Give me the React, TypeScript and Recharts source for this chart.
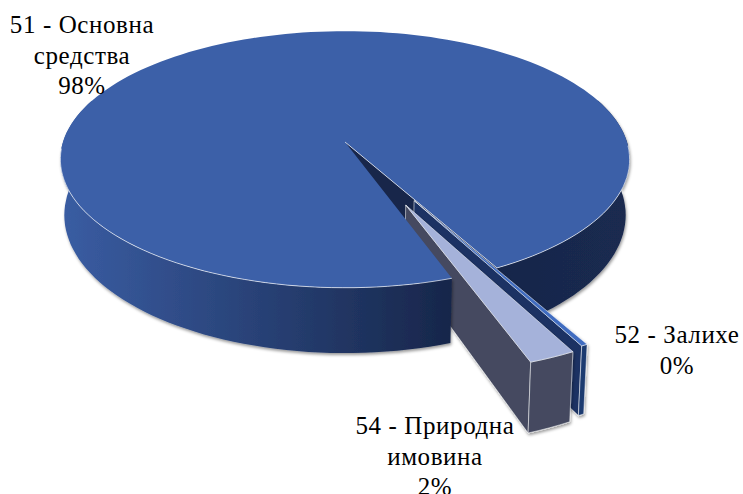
import React from 'react';
import { PieChart, Pie, Cell } from 'recharts';

const categories = ['51 - Основна средства', '52 - Залихе', '54 - Природна имовина'];
const values = [97.5, 0.3, 2.2];
const labelLines = [['51 - Основна', 'средства'], ['52 - Залихе'], ['54 - Природна', 'имовина']];
const topColors = ['#3c60a8', '#3f6cc0', '#a5b2da'];
const wallColors = ['#18264a', '#1c3a70', '#444a60'];

const data = categories.map((name, i) => ({ name, value: values[i] }));

const SQUASH = 0.4465;
const KEEP = 0.136;
const EXPLODE = [0, 0.495, 0.51];
const HIGHLIGHT = 'rgba(255,255,255,0.65)';
const LABEL_AT = [
  { x: 82, y: 33 },
  { x: 677, y: 343 },
  { x: 435, y: 434 },
];

// perspective view of a point in the pie's own plane, top or bottom face
function project(cx: number, cy: number, r: number, X: number, Y: number, bottom = false) {
  const w = 1 - KEEP * Y;
  const a = bottom ? r * 0.986 : r;
  const b = bottom ? r * 0.48 : r * SQUASH;
  const oy = bottom ? 54.4 : 0;
  return [cx + (a * X) / w, cy + oy + (b * Y) / w];
}

function toPath(points: number[][]) {
  return points.map((p, i) => `${i === 0 ? 'M' : 'L'}${p[0].toFixed(1)},${p[1].toFixed(1)}`).join(' ');
}

function arc(from: number, to: number) {
  const n = Math.max(2, Math.ceil(Math.abs(to - from) / 2));
  const out: number[][] = [];
  for (let i = 0; i <= n; i++) {
    const t = ((from + ((to - from) * i) / n) * Math.PI) / 180;
    out.push([Math.cos(t), Math.sin(t)]);
  }
  return out;
}

function onCircle(deg: number) {
  return [Math.cos((deg * Math.PI) / 180), Math.sin((deg * Math.PI) / 180)];
}

function pointer(props: any) {
  const { cx, cy, outerRadius: r, startAngle, endAngle, index } = props;
  const a0 = -startAngle;
  const a1 = -endAngle;
  const mid = (((a0 + a1) / 2) * Math.PI) / 180;
  const ox = Math.cos(mid) * EXPLODE[index];
  const oy = Math.sin(mid) * EXPLODE[index];
  const pt = (p: number[], bottom = false) => project(cx, cy, r, p[0] + ox, p[1] + oy, bottom);
  return { a0, a1, pt, index };
}

// everything that lies behind the front of the big slice: its back wall and the pulled out slices
function BackSlice(props: any) {
  const { a0, a1, pt, index } = pointer(props);
  const apexTop = pt([0, 0]);
  const apexBottom = pt([0, 0], true);

  if (index === 0) {
    const end = a1 - 360;
    const back = arc(end - 82, end);
    const wall = [...back.map((p) => pt(p)), ...back.slice().reverse().map((p) => pt(p, true))];
    const inner = [apexTop, pt(onCircle(end)), pt(onCircle(end), true), apexBottom];
    return (
      <g>
        <path d={toPath(wall) + ' Z'} fill="url(#wallRight)" filter="url(#pieShadow)" />
        <path d={toPath(inner) + ' Z'} fill={wallColors[0]} />
      </g>
    );
  }

  const top = arc(a0, a1).map((p) => pt(p));
  const frontWall = [...top, ...arc(a1, a0).map((p) => pt(p, true))];
  const sideWall = [apexTop, pt(onCircle(a1)), pt(onCircle(a1), true), apexBottom];
  return (
    <g filter="url(#pieShadow)">
      <path d={toPath(sideWall) + ' Z'} fill={index === 1 ? '#1b3363' : wallColors[2]} stroke={HIGHLIGHT} strokeWidth={0.8} />
      <path d={toPath(frontWall) + ' Z'} fill={wallColors[index]} stroke={HIGHLIGHT} strokeWidth={0.8} />
      <path d={toPath([apexTop, ...top]) + ' Z'} fill={topColors[index]} stroke={HIGHLIGHT} strokeWidth={0.8} />
    </g>
  );
}

function FrontSlice(props: any) {
  const { a0, a1, pt, index } = pointer(props);
  if (index !== 0) return <g />;
  const end = a1 - 360;
  const apexTop = pt([0, 0]);
  const top = arc(a0, a1).map((p) => pt(p));
  const front = arc(a0, 200);
  const wall = [...front.map((p) => pt(p)), ...front.slice().reverse().map((p) => pt(p, true))];
  return (
    <g>
      <path d={toPath(wall) + ' Z'} fill="url(#wallLeft)" filter="url(#pieShadow)" />
      <path d={toPath([apexTop, ...top]) + ' Z'} fill={topColors[0]} />
      <path d={toPath(arc(a0, 177).map((p) => pt(p)))} fill="none" stroke={HIGHLIGHT} />
      <path d={toPath(arc(end - 60, end).map((p) => pt(p)))} fill="none" stroke={HIGHLIGHT} />
      <path d={toPath([apexTop, pt(onCircle(end))])} fill="none" stroke={HIGHLIGHT} />
    </g>
  );
}

function renderLabel(props: any) {
  const { index, percent } = props;
  const at = LABEL_AT[index];
  const lines = [...labelLines[index], `${Math.round(percent * 100)}%`];
  return (
    <text x={at.x} y={at.y} textAnchor="middle" fontFamily="'Liberation Serif', serif" fontSize={25} letterSpacing={0.6} fill="#000">
      {lines.map((line, i) => (
        <tspan key={i} x={at.x} dy={i === 0 ? 0 : 30.5}>
          {line}
        </tspan>
      ))}
    </text>
  );
}

const pieGeometry = {
  dataKey: 'value',
  nameKey: 'name',
  cx: 345,
  cy: 142,
  outerRadius: 282,
  startAngle: -70.7,
  endAngle: -430.7,
  stroke: 'none',
  isAnimationActive: false,
};

export default function App() {
  return (
    <div style={{ position: 'absolute', left: 0, top: 0, width: 743, height: 494, background: '#fff' }}>
      <PieChart width={743} height={494} margin={{ top: 0, right: 0, bottom: 0, left: 0 }}>
        <defs>
          <linearGradient id="wallLeft" gradientUnits="userSpaceOnUse" x1="60" y1="0" x2="452" y2="0">
            <stop offset="0%" stopColor="#3a5da3" />
            <stop offset="100%" stopColor="#17264a" />
          </linearGradient>
          <linearGradient id="wallRight" gradientUnits="userSpaceOnUse" x1="490" y1="0" x2="630" y2="0">
            <stop offset="0%" stopColor="#18264a" />
            <stop offset="100%" stopColor="#1a2a50" />
          </linearGradient>
          <filter id="pieShadow" x="-10%" y="-10%" width="120%" height="120%">
            <feDropShadow dx="1" dy="2" stdDeviation="1.5" floodColor="#000" floodOpacity="0.4" />
          </filter>
        </defs>
        <Pie data={data} {...pieGeometry} shape={BackSlice}>
          {data.map((d, i) => (
            <Cell key={d.name} fill={topColors[i]} />
          ))}
        </Pie>
        <Pie data={data} {...pieGeometry} shape={FrontSlice} label={renderLabel} labelLine={false}>
          {data.map((d, i) => (
            <Cell key={d.name} fill={topColors[i]} />
          ))}
        </Pie>
      </PieChart>
    </div>
  );
}
